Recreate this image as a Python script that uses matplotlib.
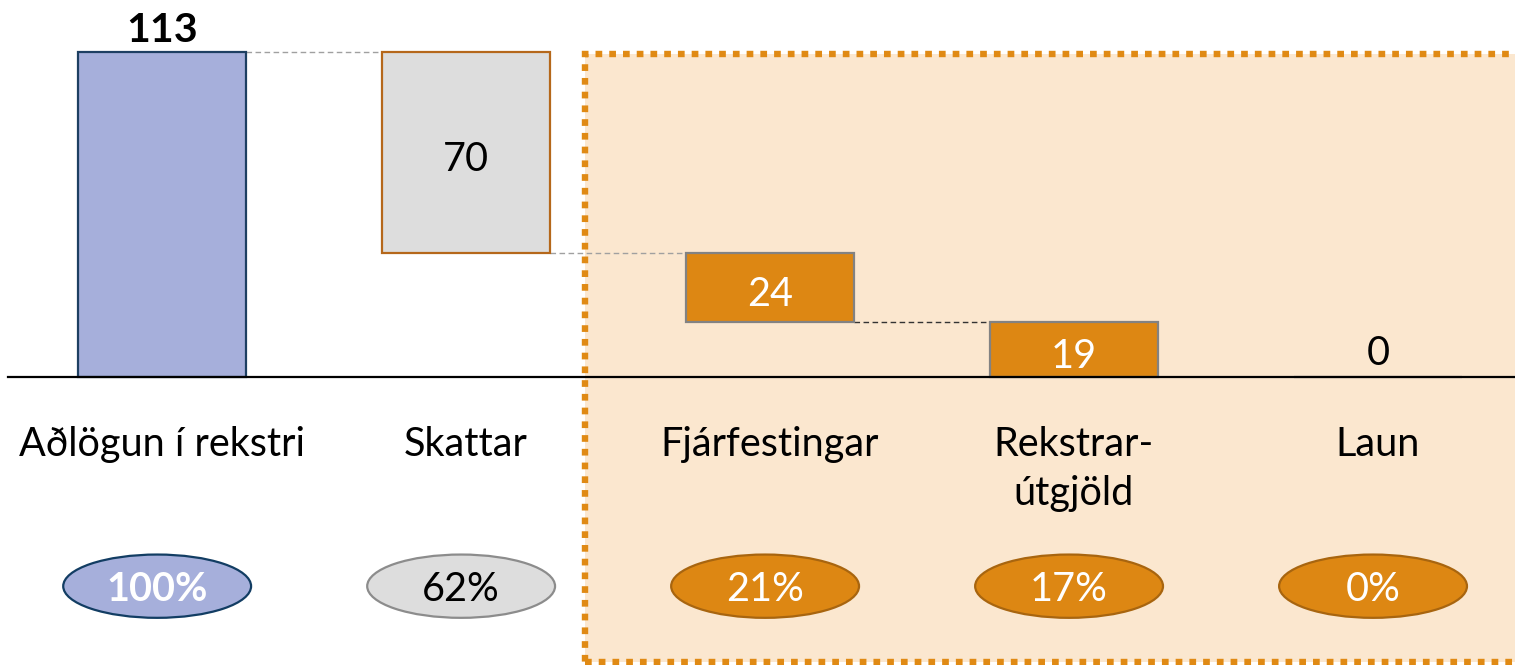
import matplotlib.pyplot as plt
from matplotlib.patches import Rectangle, Ellipse

# data
categories = ["Aðlögun í rekstri", "Skattar", "Fjárfestingar", "Rekstrar-\nútgjöld", "Laun"]
values = [113, 70, 24, 19, 0]
shares = [100, 62, 21, 17, 0]

# styling per bar
face_colors = ["#a6afdb", "#dddddd", "#dd8713", "#dd8713", "#dd8713"]
edge_colors = ["#1d3f62", "#b5671a", "#828282", "#828282", "#828282"]
value_colors = ["black", "black", "white", "white", "black"]
oval_faces = ["#a6afdb", "#dddddd", "#dd8713", "#dd8713", "#dd8713"]
oval_edges = ["#123d63", "#8c8c8c", "#a8650f", "#a8650f", "#a8650f"]
oval_text = ["white", "black", "white", "white", "white"]
connector_colors = ["#a0a0a0", "#a0a0a0", "#333333"]

plt.rcParams['font.family'] = ['Lato', 'DejaVu Sans']

fig = plt.figure(figsize=(15.15, 6.65), dpi=100)
ax = fig.add_axes([0, 0, 1, 1])
ax.set_xlim(-0.533, 4.451)
ax.set_ylim(-100.1, 131.1)
ax.axis('off')

width = 0.553
x = list(range(len(categories)))

# waterfall bottoms: first bar is the total, the rest step down from it
bottoms = [0]
running = values[0]
for v in values[1:]:
    running = running - v
    bottoms.append(running)

# shaded group behind the spending items
ax.add_patch(Rectangle((1.391, -99.1), 3.072, 211.4, facecolor="#fbe7cf",
                       edgecolor="#e08a14", linewidth=4.6,
                       linestyle=(0, (1.05, 1.1)), zorder=0))

ax.bar(x, values, bottom=bottoms, width=width, color=face_colors,
       edgecolor=edge_colors, linewidth=1.6, zorder=2)

# dashed connectors between bars
for i in range(3):
    level = bottoms[i] if i > 0 else values[0]
    ax.plot([x[i] + width / 2, x[i + 1] - width / 2], [level, level],
            color=connector_colors[i], linestyle=(0, (4, 2.5)), linewidth=1.0,
            zorder=1)

ax.axhline(0, xmin=0.005, xmax=1, color="black", linewidth=1.6, zorder=3)

# value labels
for i, v in enumerate(values):
    if i == 0:
        ax.text(x[i], v + 3.5, str(v), ha='center', va='baseline',
                fontsize=29.5, fontweight='bold', color=value_colors[i], zorder=4)
    elif v == 0:
        ax.text(x[i], bottoms[i] + 4.2, str(v), ha='center', va='baseline',
                fontsize=28.5, color=value_colors[i], zorder=4)
    else:
        mid = bottoms[i] + v / 2
        ax.text(x[i], mid - 6.2, str(v), ha='center', va='baseline',
                fontsize=28.5, color=value_colors[i], zorder=4)

# category labels
for i, cat in enumerate(categories):
    for j, line in enumerate(cat.split("\n")):
        ax.text(x[i], -27.5 - j * 17.0, line, ha='center', va='baseline',
                fontsize=28.5, color="black", zorder=4)

# share ovals
for i, s in enumerate(shares):
    cx = x[i] - 0.016
    ax.add_patch(Ellipse((cx, -72.7), 0.618, 22.0, facecolor=oval_faces[i],
                         edgecolor=oval_edges[i], linewidth=1.6, zorder=2))
    ax.text(cx, -77.9, f"{s}%", ha='center', va='baseline', fontsize=28.5,
            fontweight='bold' if i == 0 else 'normal', color=oval_text[i],
            zorder=4)

fig.savefig("out.png", dpi=100)
